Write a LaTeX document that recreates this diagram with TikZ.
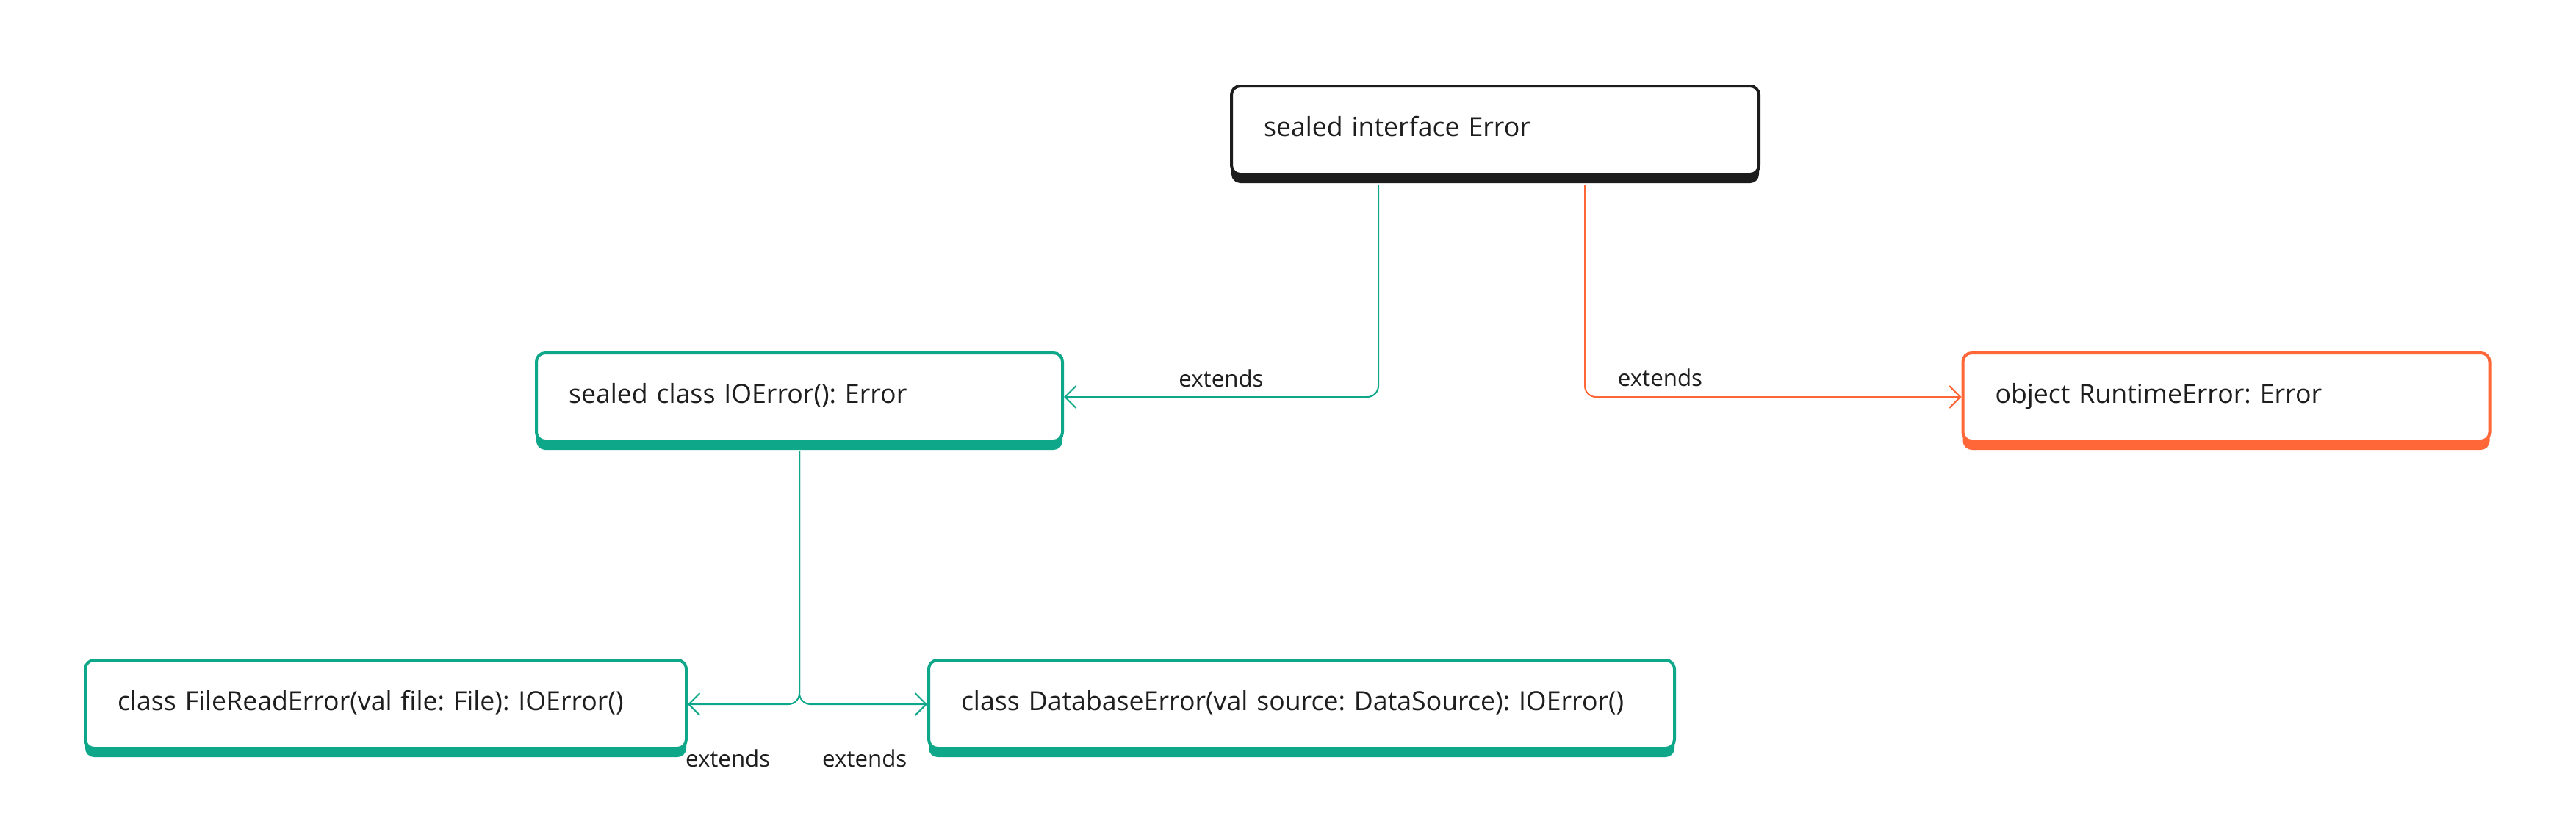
\documentclass[tikz,border=0pt]{standalone}
\usepackage{fontspec}
\setmainfont{Open Sans}
\usetikzlibrary{positioning,calc,shadows,arrows.meta}
\definecolor{extgreen}{HTML}{0EA789}
\definecolor{extorange}{HTML}{FF6638}
\definecolor{boxblack}{HTML}{1C1C1C}
\definecolor{textgray}{HTML}{1E1E1E}
\frenchspacing

\begin{document}
\begin{tikzpicture}[
	typebox/.style={draw=#1, fill=white, line width=0.04cm, rounded corners=0.12cm,
		minimum height=1.2cm, inner xsep=0.44cm, align=left, text=textgray,
		text height=0.27cm, text depth=0.11cm,
		font=\fontsize{10.15}{12}\selectfont,
		drop shadow={shadow xshift=0cm, shadow yshift=-0.12cm, opacity=1, fill=#1}},
	extline/.style={draw=#1, line width=0.02cm, rounded corners=0.15cm,
		-{Straight Barb[length=0.15cm, width=0.3cm]}},
	extlabel/.style={font=\fontsize{8.9}{10}\selectfont, text=textgray}
]
		%Rahmen
		\useasboundingbox (0,0) rectangle (35.06,-11.40);
		
		%Kaesten
		\node[typebox=boxblack, text width=6.30cm] (error) at (20.35,-1.77) {sealed interface Error};
		\node[typebox=extgreen, text width=6.28cm] (io) at (10.88,-5.40) {sealed class IOError(): Error};
		\node[typebox=extorange, text width=6.29cm] (runtime) at (30.30,-5.40) {object RuntimeError: Error};
		\node[typebox=extgreen, text width=7.30cm] (fileread) at (5.25,-9.58) {class FileReadError(val file: File): IOError()};
		\node[typebox=extgreen, text width=9.27cm] (database) at (17.715,-9.58) {class DatabaseError(val source: DataSource): IOError()};
		
		%Error -> IOError, RuntimeError
		\draw[extline=extgreen] ($(error.south west)+(2.02,-0.12)$) |- node[pos=0.75, extlabel, yshift=0.25cm]{extends} (io.east);
		\draw[extline=extorange] ($(error.south west)+(4.83,-0.12)$) |- node[pos=0.6, extlabel, yshift=0.26cm]{extends} (runtime.west);
		
		%IOError -> FileReadError, DatabaseError
		\draw[extline=extgreen] ($(io.south)+(0,-0.12)$) |- node[pos=0.82, extlabel, yshift=-0.74cm]{extends} (fileread.east);
		\draw[extline=extgreen] ($(io.south)+(0,-0.12)$) |- node[pos=0.755, extlabel, yshift=-0.74cm]{extends} (database.west);
\end{tikzpicture}
\end{document}
